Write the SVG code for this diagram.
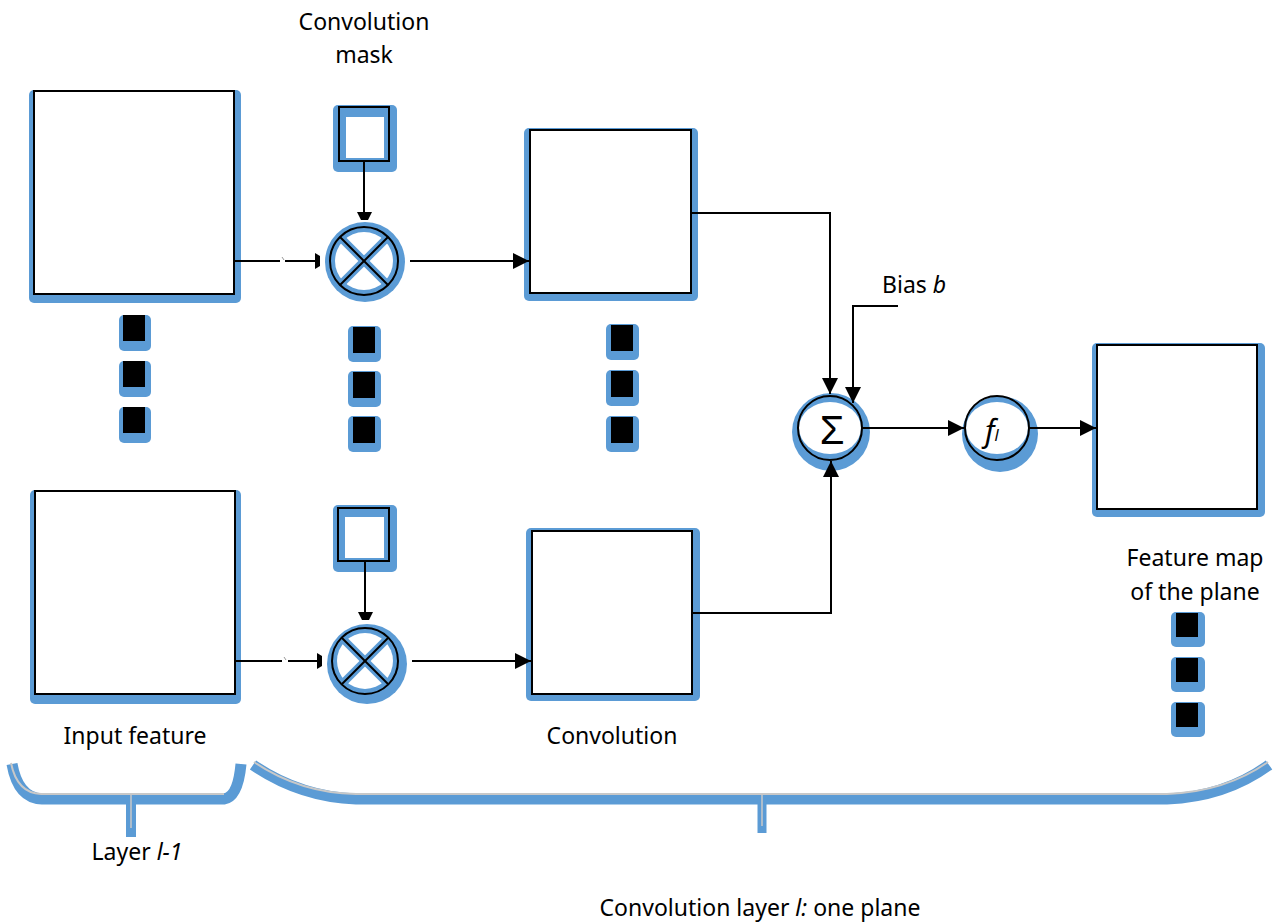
<svg xmlns="http://www.w3.org/2000/svg" width="1279" height="924" viewBox="0 0 1279 924">
  <style>
    .shade { fill: #5b9bd5; }
    .box { fill: #ffffff; stroke: #000000; stroke-width: 2; }
    .ring { fill: none; stroke: #000000; stroke-width: 2; }
    .dot { fill: #000000; }
    .wire { fill: none; stroke: #000000; stroke-width: 2; }
    .lbl { font-family: "Noto Sans", "Open Sans", sans-serif; font-size: 23px; fill: #000000; }
    .sym { font-family: "Liberation Sans", sans-serif; font-size: 40px; fill: #000000; }
    .fn { font-family: "Noto Sans", "Open Sans", sans-serif; font-size: 30px; font-style: italic; fill: #000000; }
    .brace { fill: none; stroke: #5b9bd5; stroke-width: 11; stroke-linecap: butt; }
    .braceHi { fill: none; stroke: #c8c8c8; stroke-width: 2; }
  </style>
  <defs>
    <marker id="arrow" viewBox="0 0 16 16" refX="16" refY="8" markerWidth="16" markerHeight="16" markerUnits="userSpaceOnUse" orient="auto">
      <path d="M0,0 L16,8 L0,16 Z" fill="#000000"/>
    </marker>
  </defs>

  <rect width="1279" height="924" fill="#ffffff"/>

  <!-- input feature maps -->
  <g id="input-top">
    <rect class="shade" x="29" y="90" width="212" height="213" rx="5"/>
    <rect class="box" x="34" y="91" width="200" height="203"/>
  </g>
  <g id="input-bottom">
    <rect class="shade" x="30" y="490" width="211" height="214" rx="5"/>
    <rect class="box" x="35" y="491" width="200" height="203"/>
  </g>

  <!-- convolution masks -->
  <g id="mask-top">
    <rect class="shade" x="333" y="105" width="64" height="67" rx="5"/>
    <rect x="339" y="107" width="50" height="54" fill="#5b9bd5" stroke="#000" stroke-width="2"/>
    <rect x="346" y="117" width="38" height="41" fill="#ffffff"/>
  </g>
  <g id="mask-bottom">
    <rect class="shade" x="333" y="505" width="64" height="67" rx="5"/>
    <rect x="338" y="508" width="51" height="53" fill="#5b9bd5" stroke="#000" stroke-width="2"/>
    <rect x="345" y="517" width="39" height="41" fill="#ffffff"/>
  </g>

  <!-- multipliers -->
  <g id="mult-top">
    <circle class="shade" cx="365" cy="262" r="40"/>
    <circle cx="364" cy="261" r="29" fill="#ffffff"/>
    <line x1="340" y1="237" x2="388" y2="285" stroke="#5b9bd5" stroke-width="8"/>
    <line x1="388" y1="237" x2="340" y2="285" stroke="#5b9bd5" stroke-width="8"/>
    <line x1="340" y1="237" x2="388" y2="285" stroke="#000" stroke-width="2"/>
    <line x1="388" y1="237" x2="340" y2="285" stroke="#000" stroke-width="2"/>
    <circle class="ring" cx="364" cy="261" r="34"/>
  </g>
  <g id="mult-bottom">
    <circle class="shade" cx="367" cy="664" r="40"/>
    <circle cx="365" cy="661" r="28" fill="#ffffff"/>
    <line x1="342" y1="638" x2="388" y2="684" stroke="#5b9bd5" stroke-width="8"/>
    <line x1="388" y1="638" x2="342" y2="684" stroke="#5b9bd5" stroke-width="8"/>
    <line x1="342" y1="638" x2="388" y2="684" stroke="#000" stroke-width="2"/>
    <line x1="388" y1="638" x2="342" y2="684" stroke="#000" stroke-width="2"/>
    <circle class="ring" cx="365" cy="661" r="33"/>
  </g>

  <!-- convolution results -->
  <g id="conv-top">
    <rect class="shade" x="524" y="128" width="174" height="173" rx="5"/>
    <rect class="box" x="530" y="130" width="161" height="163"/>
  </g>
  <g id="conv-bottom">
    <rect class="shade" x="526" y="528" width="174" height="173" rx="5"/>
    <rect class="box" x="532" y="531" width="160" height="163"/>
  </g>

  <!-- summation and activation -->
  <g id="sum">
    <circle class="shade" cx="831" cy="432" r="39"/>
    <ellipse cx="830" cy="428" rx="31" ry="26" fill="#ffffff"/>
    <circle class="ring" cx="830" cy="428" r="32"/>
    <text class="sym" x="832" y="444" text-anchor="middle">Σ</text>
  </g>
  <g id="activation">
    <circle class="shade" cx="1000" cy="434" r="38"/>
    <ellipse cx="997" cy="428" rx="31" ry="26" fill="#ffffff"/>
    <circle class="ring" cx="997" cy="428" r="32"/>
    <text class="fn" x="985" y="442">f<tspan style="font-size:16px" dy="-1">l</tspan></text>
  </g>

  <!-- output feature map -->
  <g id="feature-map">
    <rect class="shade" x="1092" y="343" width="173" height="174" rx="5"/>
    <rect class="box" x="1097" y="345" width="160" height="164"/>
  </g>

  <!-- ellipsis dots -->
  <g id="dots-input">
    <rect class="shade" x="119" y="315" width="32" height="36" rx="5"/>
    <rect class="dot" x="123" y="315" width="22" height="26"/>
    <rect class="shade" x="119" y="361" width="32" height="36" rx="5"/>
    <rect class="dot" x="123" y="361" width="22" height="26"/>
    <rect class="shade" x="119" y="407" width="32" height="36" rx="5"/>
    <rect class="dot" x="123" y="407" width="22" height="26"/>
  </g>
  <g id="dots-mask">
    <rect class="shade" x="348" y="326" width="33" height="36" rx="5"/>
    <rect class="dot" x="353" y="327" width="22" height="26"/>
    <rect class="shade" x="348" y="371" width="33" height="36" rx="5"/>
    <rect class="dot" x="353" y="372" width="22" height="26"/>
    <rect class="shade" x="348" y="416" width="33" height="36" rx="5"/>
    <rect class="dot" x="353" y="417" width="22" height="26"/>
  </g>
  <g id="dots-conv">
    <rect class="shade" x="606" y="324" width="33" height="36" rx="5"/>
    <rect class="dot" x="611" y="325" width="22" height="26"/>
    <rect class="shade" x="606" y="370" width="33" height="36" rx="5"/>
    <rect class="dot" x="611" y="371" width="22" height="26"/>
    <rect class="shade" x="606" y="416" width="33" height="36" rx="5"/>
    <rect class="dot" x="611" y="417" width="22" height="26"/>
  </g>
  <g id="dots-map">
    <rect class="shade" x="1171" y="612" width="34" height="35" rx="5"/>
    <rect class="dot" x="1176" y="613" width="22" height="24"/>
    <rect class="shade" x="1171" y="657" width="34" height="35" rx="5"/>
    <rect class="dot" x="1176" y="658" width="22" height="24"/>
    <rect class="shade" x="1171" y="702" width="34" height="35" rx="5"/>
    <rect class="dot" x="1176" y="703" width="22" height="24"/>
  </g>

  <!-- connectors -->
  <g id="connectors">
    <!-- input maps into multipliers (short break in each line) -->
    <line class="wire" x1="234" y1="261" x2="280" y2="261"/>
    <line class="wire" x1="285" y1="261" x2="316" y2="261"/>
    <line x1="282" y1="257" x2="284" y2="260" stroke="#999" stroke-width="1"/>
    <polygon points="315,253 320,256 320,266 315,269" fill="#000"/>
    <line class="wire" x1="235" y1="661" x2="282" y2="661"/>
    <line class="wire" x1="288" y1="661" x2="318" y2="661"/>
    <line x1="284" y1="657" x2="286" y2="660" stroke="#999" stroke-width="1"/>
    <polygon points="317,653 322,656 322,666 317,669" fill="#000"/>
    <!-- masks into multipliers -->
    <line class="wire" x1="364" y1="161" x2="364" y2="213"/>
    <polygon points="357,212 372,212 368,220 361,220" fill="#000"/>
    <line class="wire" x1="365" y1="561" x2="365" y2="613"/>
    <polygon points="358,612 373,612 369,620 362,620" fill="#000"/>
    <!-- multipliers into convolution maps -->
    <line class="wire" x1="410" y1="261" x2="529" y2="261" marker-end="url(#arrow)"/>
    <line class="wire" x1="412" y1="661" x2="531" y2="661" marker-end="url(#arrow)"/>
    <!-- convolution maps into summation -->
    <polyline class="wire" points="691,213 830,213 830,394" marker-end="url(#arrow)"/>
    <polyline class="wire" points="692,613 831,613 831,461" marker-end="url(#arrow)"/>
    <!-- bias -->
    <polyline class="wire" points="898,306 853,306 853,403" marker-end="url(#arrow)"/>
    <!-- summation to activation to output -->
    <line class="wire" x1="862" y1="428" x2="964" y2="428" marker-end="url(#arrow)"/>
    <line class="wire" x1="1029" y1="428" x2="1096" y2="428" marker-end="url(#arrow)"/>
  </g>

  <!-- braces -->
  <g id="brace-layer-prev">
    <path class="brace" d="M12,764 Q18,798 42,799 L224,799 Q238,797 241,764"/>
    <line x1="131" y1="799" x2="131" y2="837" stroke="#5b9bd5" stroke-width="10"/>
    <path class="braceHi" d="M11,763 Q17,793 41,794 L224,794"/>
    <line x1="131" y1="795" x2="131" y2="828" stroke="#c8c8c8" stroke-width="1.5"/>
  </g>
  <g id="brace-layer">
    <path class="brace" d="M253,765 Q300,797 356,799 L1167,799 Q1225,797 1269,765"/>
    <line x1="762" y1="799" x2="762" y2="833" stroke="#5b9bd5" stroke-width="9"/>
    <path class="braceHi" d="M254,762 Q300,793 356,794 L1167,794 Q1225,792 1268,762"/>
    <line x1="762" y1="795" x2="762" y2="826" stroke="#c8c8c8" stroke-width="1.5"/>
  </g>

  <!-- labels -->
  <g id="labels">
    <text class="lbl" x="364" y="30" text-anchor="middle">Convolution</text>
    <text class="lbl" x="364" y="63" text-anchor="middle">mask</text>
    <text class="lbl" x="882" y="293">Bias <tspan font-style="italic">b</tspan></text>
    <text class="lbl" x="135" y="744" text-anchor="middle">Input feature</text>
    <text class="lbl" x="612" y="744" text-anchor="middle">Convolution</text>
    <text class="lbl" x="1195" y="566" text-anchor="middle">Feature map</text>
    <text class="lbl" x="1195" y="600" text-anchor="middle">of the plane</text>
    <text class="lbl" x="137" y="860" text-anchor="middle">Layer <tspan font-style="italic">l-1</tspan></text>
    <text class="lbl" x="760" y="916" text-anchor="middle">Convolution layer <tspan font-style="italic">l:</tspan> one plane</text>
  </g>
</svg>
